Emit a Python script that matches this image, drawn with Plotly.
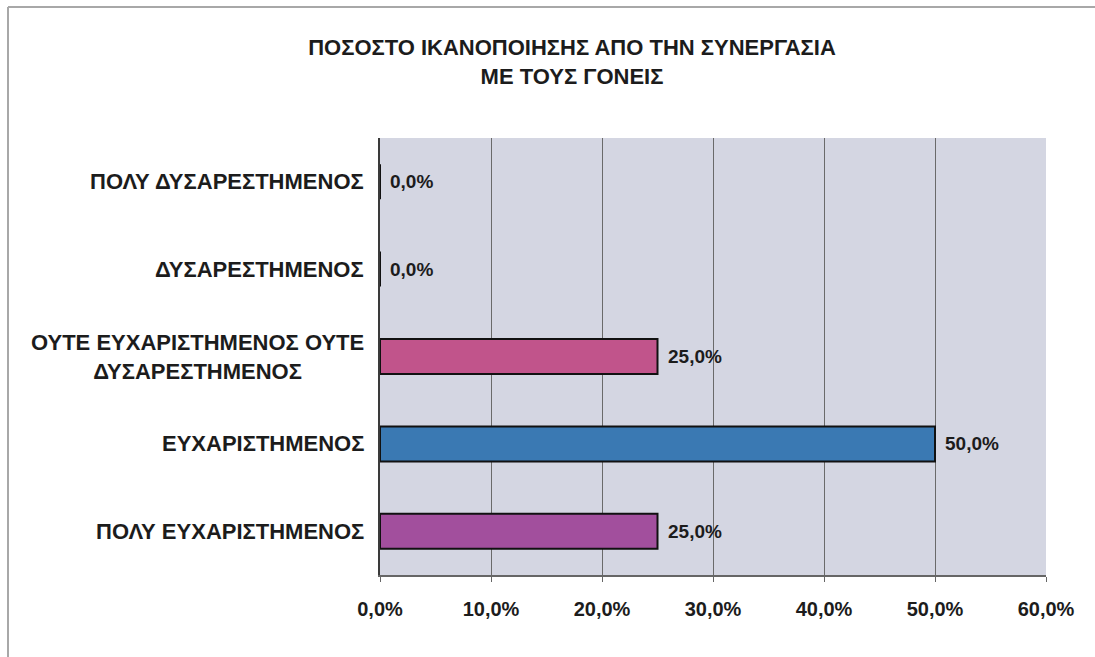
import plotly.graph_objects as go

# Satisfaction categories (bottom to top on the chart) and their shares in percent
categories = [
    "ΠΟΛΥ ΕΥΧΑΡΙΣΤΗΜΕΝΟΣ",
    "ΕΥΧΑΡΙΣΤΗΜΕΝΟΣ",
    "ΟΥΤΕ ΕΥΧΑΡΙΣΤΗΜΕΝΟΣ ΟΥΤΕ<br>ΔΥΣΑΡΕΣΤΗΜΕΝΟΣ",
    "ΔΥΣΑΡΕΣΤΗΜΕΝΟΣ",
    "ΠΟΛΥ ΔΥΣΑΡΕΣΤΗΜΕΝΟΣ",
]
values = [25.0, 50.0, 25.0, 0.0, 0.0]
bar_colors = ["#a24f9d", "#3a79b3", "#c1548b", "#c1548b", "#c1548b"]
tick_values = [0, 10, 20, 30, 40, 50, 60]
tick_labels = [f"{t:.1f}%".replace(".", ",") for t in tick_values]

FONT = "Liberation Sans, Arial, sans-serif"
TEXT = "#1c1c1c"

W, H = 1095, 657
ML, MR, MT, MB = 380, 49, 138, 82
PW, PH = W - ML - MR, H - MT - MB

fig = go.Figure()
fig.add_trace(go.Bar(
    y=categories,
    x=values,
    orientation="h",
    width=0.4,
    marker=dict(color=bar_colors, line=dict(color="#111111", width=2)),
    hoverinfo="skip",
))

# value labels to the right of each bar
for cat, v in zip(categories, values):
    fig.add_annotation(
        x=v, y=cat, xref="x", yref="y",
        text=f"{v:.1f}%".replace(".", ","),
        showarrow=False, xanchor="left", xshift=8,
        font=dict(family=FONT, size=19, color=TEXT, weight="bold"),
    )

# category labels, centred within their block
for cat in categories:
    fig.add_annotation(
        x=0, y=cat, xref="paper", yref="y",
        text=cat, showarrow=False, xanchor="right", align="center",
        xshift=-14,
        font=dict(family=FONT, size=22, color=TEXT, weight="bold"),
    )

# outer frame (left and top edges)
fig.add_shape(type="line", xref="paper", yref="paper",
              x0=-372 / PW, x1=-372 / PW,
              y0=-(MB + 5) / PH, y1=1 + 131 / PH,
              line=dict(color="#a8a8a8", width=2))
fig.add_shape(type="line", xref="paper", yref="paper",
              x0=-372 / PW, x1=1 + MR / PW,
              y0=1 + 131 / PH, y1=1 + 131 / PH,
              line=dict(color="#a8a8a8", width=2))

fig.update_layout(
    width=W, height=H,
    margin=dict(l=ML, r=MR, t=MT, b=MB),
    paper_bgcolor="white",
    plot_bgcolor="#d4d6e2",
    showlegend=False,
    title=dict(
        text="ΠΟΣΟΣΤΟ ΙΚΑΝΟΠΟΙΗΣΗΣ ΑΠΟ ΤΗΝ ΣΥΝΕΡΓΑΣΙΑ<br>ΜΕ ΤΟΥΣ ΓΟΝΕΙΣ",
        x=572 / W, xanchor="center", xref="container",
        y=1 - 55 / H, yanchor="middle", yref="container",
        font=dict(family=FONT, size=22, color=TEXT, weight="bold"),
    ),
    xaxis=dict(
        range=[0, 60],
        tickvals=tick_values,
        ticktext=tick_labels,
        showgrid=True, gridcolor="#6a6a6a", gridwidth=1,
        zeroline=False,
        showline=True, linecolor="#666666", linewidth=2,
        ticks="outside", ticklen=5, tickcolor="#666666",
        ticklabelstandoff=10,
        tickfont=dict(family=FONT, size=20, color=TEXT, weight="bold"),
        fixedrange=True,
    ),
    yaxis=dict(
        showticklabels=False,
        showgrid=False, zeroline=False,
        showline=True, linecolor="#3a3a3a", linewidth=2,
        ticks="", fixedrange=True,
    ),
)

fig.write_html("out.html")
